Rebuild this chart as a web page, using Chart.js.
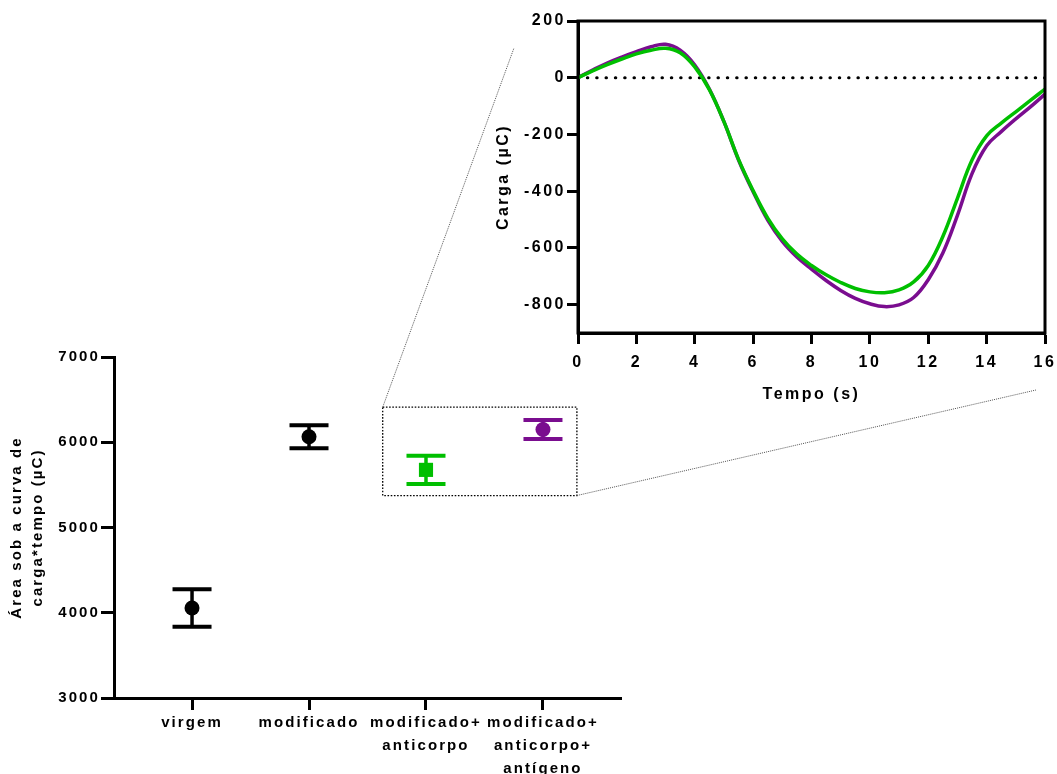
<!DOCTYPE html>
<html lang="pt">
<head>
<meta charset="utf-8">
<title>Área sob a curva e carga x tempo</title>
<script src="https://cdn.jsdelivr.net/npm/chart.js@4.4.1/dist/chart.umd.min.js"></script>
<style>
  html, body { margin: 0; padding: 0; background: #fff; }
  #wrap { position: relative; width: 1057px; height: 774px; }
  #grafArea { position: absolute; left: 0; top: 0; }
  #grafCarga { position: absolute; left: 490px; top: 0; }
</style>
</head>
<body>
<div id="wrap">
  <canvas id="grafArea" width="1057" height="774"></canvas>
  <canvas id="grafCarga" width="567" height="420"></canvas>
</div>
<script>
// amostras (grafico principal)
const categorias = ['virgem', 'modificado', 'modificado+anticorpo', 'modificado+anticorpo+antígeno'];
const rotulos = [['virgem'], ['modificado'], ['modificado+', 'anticorpo'], ['modificado+', 'anticorpo+', 'antígeno']];
const areaMedia = [4055, 6065, 5676, 6150];
const areaErro = [220, 135, 166, 112];
const ticksArea = [3000, 4000, 5000, 6000, 7000];

// curvas carga x tempo (grafico menor)
const tempo = [0, 0.5, 1, 1.5, 2, 2.5, 3, 3.5, 4, 4.5, 5, 5.5, 6, 6.5, 7, 7.5, 8, 8.5,
               9, 9.5, 10, 10.5, 11, 11.5, 12, 12.5, 13, 13.5, 14, 14.5, 15, 15.5, 16];
const cargaAnticorpo = [0, 24, 46, 66, 84, 97, 104, 88, 38, -42, -155, -288, -398, -495, -568, -622, -662, -695,
                        -722, -743, -755, -758, -748, -720, -662, -560, -425, -290, -205, -160, -120, -80, -40];
const cargaAntigeno = [0, 27, 52, 73, 92, 109, 118, 97, 45, -40, -155, -290, -402, -502, -577, -632, -675, -715,
                       -750, -778, -797, -807, -801, -775, -712, -618, -485, -338, -240, -190, -145, -103, -58];
const ticksTempo = [0, 2, 4, 6, 8, 10, 12, 14, 16];
const ticksCarga = [-800, -600, -400, -200, 0, 200];

const preto = '#000000';
const verde = '#00BF00';
const roxo = '#7A0D8F';
const coresAmostra = [preto, preto, verde, roxo];
const marcadores = ['circle', 'circle', 'rect', 'circle'];
const fonte = "'Liberation Sans', Arial, sans-serif";

// regiao ampliada no grafico menor (em unidades do grafico principal)
const recorte = { x: [1.63, 3.29], y: [5375, 6412] };

// letras espaçadas como no Prism
function espacamento(px) {
    return {
        id: 'espacamento',
        beforeUpdate(chart) { chart.ctx.letterSpacing = px + 'px'; },
        beforeDraw(chart) { chart.ctx.letterSpacing = px + 'px'; }
    };
}

const barrasErro = {
    id: 'barrasErro',
    beforeDatasetsDraw(chart) {
        const { ctx, scales: { x, y } } = chart;
        ctx.save();
        areaMedia.forEach((m, i) => {
            const px = x.getPixelForValue(i);
            const yTop = y.getPixelForValue(m + areaErro[i]);
            const yBot = y.getPixelForValue(m - areaErro[i]);
            ctx.strokeStyle = coresAmostra[i];
            ctx.lineWidth = 3.5;
            ctx.beginPath();
            ctx.moveTo(px, yTop);
            ctx.lineTo(px, yBot);
            ctx.stroke();
            ctx.lineWidth = 4;
            ctx.beginPath();
            ctx.moveTo(px - 19.5, yTop); ctx.lineTo(px + 19.5, yTop);
            ctx.moveTo(px - 19.5, yBot); ctx.lineTo(px + 19.5, yBot);
            ctx.stroke();
        });
        ctx.restore();
    }
};

const ampliacao = {
    id: 'ampliacao',
    afterDraw(chart) {
        const { ctx, scales: { x, y } } = chart;
        const x0 = x.getPixelForValue(recorte.x[0]);
        const x1 = x.getPixelForValue(recorte.x[1]);
        const y0 = y.getPixelForValue(recorte.y[1]);
        const y1 = y.getPixelForValue(recorte.y[0]);
        ctx.save();
        ctx.strokeStyle = preto;
        ctx.lineWidth = 1.3;
        ctx.setLineDash([1.6, 1.6]);
        ctx.strokeRect(x0, y0, x1 - x0, y1 - y0);
        // linhas guia ate o grafico menor
        ctx.strokeStyle = '#555';
        ctx.lineWidth = 1;
        ctx.setLineDash([1, 1]);
        ctx.beginPath();
        ctx.moveTo(x0, y0); ctx.lineTo(514, 48);
        ctx.moveTo(x1, y1); ctx.lineTo(1036, 390);
        ctx.stroke();
        ctx.restore();
    }
};

const moldura = {
    id: 'moldura',
    afterDraw(chart) {
        const { ctx, chartArea: a } = chart;
        ctx.save();
        ctx.strokeStyle = preto;
        ctx.lineWidth = 3;
        ctx.strokeRect(a.left, a.top, a.right - a.left, a.bottom - a.top);
        ctx.restore();
    }
};

function fonteNegrito(size, lineHeight) {
    return { family: fonte, size: size, weight: 'bold', lineHeight: lineHeight };
}

new Chart(document.getElementById('grafArea'), {
    type: 'scatter',
    data: {
        datasets: [{
            data: areaMedia.map((v, i) => ({ x: i, y: v })),
            pointStyle: marcadores,
            pointRadius: marcadores.map(m => m === 'rect' ? 10 : 7.5),
            backgroundColor: coresAmostra,
            borderColor: coresAmostra,
            borderWidth: 0
        }]
    },
    options: {
        responsive: false,
        animation: false,
        devicePixelRatio: 1,
        layout: { padding: { top: 357, right: 436, left: 0, bottom: 0 } },
        plugins: { legend: { display: false }, tooltip: { enabled: false } },
        scales: {
            x: {
                type: 'linear',
                min: -0.667,
                max: 3.667,
                afterBuildTicks: s => { s.ticks = categorias.map((c, i) => ({ value: i })); },
                afterFit: s => { s.height = 76; s.paddingLeft = 0; s.paddingRight = 0; },
                border: { color: preto, width: 3 },
                grid: { drawOnChartArea: false, tickLength: 12, tickWidth: 3, tickColor: preto },
                ticks: {
                    autoSkip: false, maxRotation: 0, padding: 1, color: preto,
                    font: fonteNegrito(15, '23px'),
                    callback: (v, i) => rotulos[i]
                }
            },
            y: {
                min: 3000,
                max: 7000,
                afterBuildTicks: s => { s.ticks = ticksArea.map(v => ({ value: v })); },
                afterFit: s => { s.width = 114; },
                border: { color: preto, width: 3 },
                grid: { drawOnChartArea: false, tickLength: 13, tickWidth: 3, tickColor: preto },
                ticks: { padding: 1, color: preto, font: fonteNegrito(15, 1.2), callback: v => String(v) },
                title: {
                    display: true,
                    text: ['Área sob a curva de', 'carga*tempo (µC)'],
                    color: preto,
                    font: fonteNegrito(15, '21px'),
                    padding: { top: 6.5, bottom: 0 }
                }
            }
        }
    },
    plugins: [espacamento(2.1), barrasErro, ampliacao]
});

new Chart(document.getElementById('grafCarga'), {
    type: 'line',
    data: {
        datasets: [
            {
                data: tempo.map((t, i) => ({ x: t, y: cargaAnticorpo[i] })),
                borderColor: verde, borderWidth: 3.5, pointRadius: 0, tension: 0.4
            },
            {
                data: tempo.map((t, i) => ({ x: t, y: cargaAntigeno[i] })),
                borderColor: roxo, borderWidth: 3.5, pointRadius: 0, tension: 0.4
            },
            {
                // linha do zero pontilhada
                data: [{ x: 0, y: 0 }, { x: 16, y: 0 }],
                borderColor: preto, borderWidth: 3, pointRadius: 0,
                borderDash: [0.5, 8.83], borderCapStyle: 'round'
            }
        ]
    },
    options: {
        responsive: false,
        animation: false,
        devicePixelRatio: 1,
        layout: { padding: { top: 21, right: 12, left: 0, bottom: 0 } },
        plugins: { legend: { display: false }, tooltip: { enabled: false } },
        scales: {
            x: {
                type: 'linear',
                min: 0,
                max: 16,
                afterBuildTicks: s => { s.ticks = ticksTempo.map(v => ({ value: v })); },
                afterFit: s => { s.height = 87; s.paddingLeft = 0; s.paddingRight = 0; },
                border: { color: preto, width: 3 },
                grid: { drawOnChartArea: false, tickLength: 11, tickWidth: 3, tickColor: preto },
                ticks: { autoSkip: false, maxRotation: 0, padding: 9, color: preto, font: fonteNegrito(16, 1.2), callback: v => String(v) },
                title: {
                    display: true, text: 'Tempo (s)', color: preto,
                    font: fonteNegrito(16, 1.2), padding: { top: 0, bottom: 16 }
                }
            },
            y: {
                min: -900,
                max: 200,
                afterBuildTicks: s => { s.ticks = ticksCarga.map(v => ({ value: v })); },
                afterFit: s => { s.width = 88; s.paddingTop = 0; s.paddingBottom = 0; },
                border: { color: preto, width: 3 },
                grid: { drawOnChartArea: false, tickLength: 11, tickWidth: 3, tickColor: preto },
                ticks: { padding: 1, color: preto, font: fonteNegrito(16, 1.2), callback: v => String(v) },
                title: {
                    display: true, text: 'Carga (µC)', color: preto,
                    font: fonteNegrito(16, 1.2), padding: { top: 4, bottom: 0 }
                }
            }
        }
    },
    plugins: [espacamento(2.5), moldura]
});
</script>
</body>
</html>
